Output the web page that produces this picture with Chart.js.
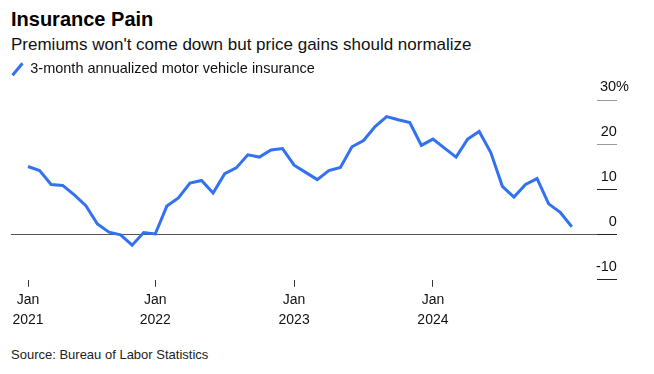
<!DOCTYPE html>
<html>
<head>
<meta charset="utf-8">
<script src="https://cdn.jsdelivr.net/npm/chart.js@4.4.1/dist/chart.umd.min.js"></script>
<style>
  html, body { margin: 0; padding: 0; background: #fff; }
  body { width: 654px; height: 374px; position: relative; overflow: hidden; font-family: "Liberation Sans", Arial, Helvetica, sans-serif; color: #111; }
  .t { position: absolute; left: 11px; white-space: nowrap; line-height: 1; }
  #title { top: 9px; font-size: 20px; font-weight: bold; color: #000; }
  #subtitle { top: 36px; font-size: 17px; color: #111; }
  #source { top: 348px; font-size: 13px; color: #222; }
  #wrap { position: absolute; left: 0; top: 0; width: 654px; height: 374px; }
</style>
</head>
<body>
<div id="title" class="t">Insurance Pain</div>
<div id="subtitle" class="t">Premiums won't come down but price gains should normalize</div>
<div id="source" class="t">Source: Bureau of Labor Statistics</div>
<div id="wrap"><canvas id="c" width="654" height="374"></canvas></div>
<script>
// Monthly values (month-end), Jan 2021 .. Dec 2024, percent
const seriesName = '3-month annualized motor vehicle insurance';
const values = [
  15.2, 14.3, 11.2, 11.0, 8.9, 6.5, 2.4, 0.6, 0.0, -2.3, 0.5, 0.2,
  6.4, 8.2, 11.5, 12.1, 9.3, 13.6, 14.9, 17.8, 17.3, 18.9, 19.2, 15.5,
  13.9, 12.3, 14.3, 15.0, 19.6, 21.0, 24.1, 26.3, 25.6, 25.0, 19.9, 21.3,
  19.3, 17.3, 21.3, 23.0, 18.3, 10.8, 8.4, 11.2, 12.5, 6.9, 5.0, 1.8
];
// x-axis ticks: months counted from the start of 2021
const xTickMonths = [1, 12, 24, 36];
const xTickLabels = [['Jan', '2021'], ['Jan', '2022'], ['Jan', '2023'], ['Jan', '2024']];
const yTicks = [-10, 0, 10, 20, 30];

const points = values.map((v, i) => ({ x: i + 1, y: v }));
const FONT = '"Liberation Sans", Arial, Helvetica, sans-serif';
const BLUE = '#3171f2';

const legendSpacing = {
  id: 'legendSpacing',
  beforeInit(chart) {
    const orig = chart.legend.fit;
    chart.legend.fit = function () { orig.call(this); this.height = 39; };
  }
};

new Chart(document.getElementById('c'), {
  type: 'line',
  data: {
    datasets: [{
      label: seriesName,
      data: points,
      borderColor: BLUE,
      backgroundColor: BLUE,
      borderWidth: 3,
      pointRadius: 0,
      pointHoverRadius: 0,
      pointRotation: -50,
      tension: 0,
      fill: false,
      borderJoinStyle: 'miter'
    }]
  },
  options: {
    responsive: false,
    animation: false,
    devicePixelRatio: 1,
    layout: { padding: { top: 61, left: 11, right: 0, bottom: 40 } },
    plugins: {
      legend: {
        position: 'top',
        align: 'start',
        labels: {
          usePointStyle: true,
          pointStyle: 'line',
          boxWidth: 11,
          boxHeight: 11,
          padding: 1,
          color: '#111',
          font: { family: FONT, size: 14.5 }
        }
      },
      tooltip: { enabled: false }
    },
    scales: {
      x: {
        type: 'linear',
        min: -0.47,
        max: 50.18,
        border: { display: false },
        grid: { drawOnChartArea: false, drawTicks: true, tickLength: 7, tickColor: '#333', lineWidth: 1 },
        afterBuildTicks: (s) => { s.ticks = xTickMonths.map(v => ({ value: v })); },
        ticks: {
          autoSkip: false,
          maxRotation: 0,
          padding: 4,
          color: '#111',
          font: { family: FONT, size: 14, lineHeight: 1.4 },
          callback: (v) => { const i = xTickMonths.indexOf(v); return i >= 0 ? xTickLabels[i] : ''; }
        }
      },
      y: {
        type: 'linear',
        position: 'right',
        min: -10,
        max: 30,
        border: { display: false },
        afterBuildTicks: (s) => { s.ticks = yTicks.map(v => ({ value: v })); },
        afterFit: (s) => { s.width = 57; },
        grid: {
          drawOnChartArea: true,
          drawTicks: true,
          tickLength: 20,
          lineWidth: 1,
          color: (ctx) => ctx.tick && ctx.tick.value === 0 ? '#555' : 'rgba(0,0,0,0)',
          tickColor: (ctx) => ctx.tick && ctx.tick.value >= 20 ? '#999' : '#222'
        },
        ticks: {
          mirror: true,
          padding: 32,
          labelOffset: -13,
          color: '#111',
          font: { family: FONT, size: 14.5 },
          callback: (v) => v === 30 ? '30%' : String(v) + '   '
        }
      }
    }
  },
  plugins: [legendSpacing]
});
</script>
</body>
</html>
